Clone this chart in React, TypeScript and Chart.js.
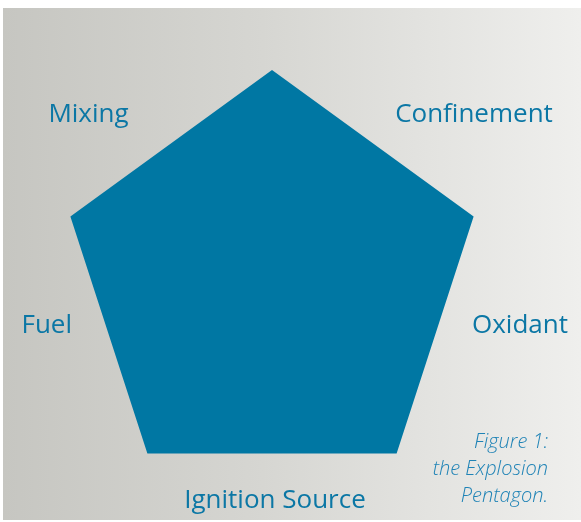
import React, { useEffect, useRef } from "react";
import { Chart, registerables } from "chart.js";

Chart.register(...registerables);

// Data
const factors = ["Confinement", "Oxidant", "Ignition Source", "Fuel", "Mixing"];
const strength = [1, 1, 1, 1, 1];
const captionLines = ["Figure 1:", "the Explosion", "Pentagon."];

// Styling / layout (not data)
const BLUE = "#0077a3";
const LABEL_COLOR = "#0b77a5";
const CAPTION_COLOR = "#1f83b6";
const LABEL_FONT = "500 26px 'Open Sans', 'DejaVu Sans', sans-serif";
const CAPTION_FONT = "italic 300 20px 'Open Sans', 'DejaVu Sans', sans-serif";
// offset of each factor label from the radar centre: [dx, baseline dy, align]
const LABEL_PLACEMENT: [number, number, CanvasTextAlign][] = [
  [202, -160, "center"],
  [200, 51, "left"],
  [3, 226, "center"],
  [-200, 51, "right"],
  [-183.5, -160, "center"],
];

const labelPlugin = {
  id: "pentagonLabels",
  afterDatasetsDraw(chart: any) {
    const scale = chart.scales.r;
    const ctx = chart.ctx as CanvasRenderingContext2D;
    const cx = scale.xCenter;
    const cy = scale.yCenter;
    ctx.save();
    ctx.fillStyle = LABEL_COLOR;
    ctx.font = LABEL_FONT;
    ctx.textBaseline = "alphabetic";
    factors.forEach((name, i) => {
      const [dx, dy, align] = LABEL_PLACEMENT[i];
      ctx.textAlign = align;
      ctx.fillText(name, cx + dx, cy + dy);
    });
    ctx.font = CAPTION_FONT;
    ctx.fillStyle = CAPTION_COLOR;
    ctx.textAlign = "right";
    captionLines.forEach((line, i) => {
      ctx.fillText(line, cx + 276, cy + 166 + i * 27);
    });
    ctx.restore();
  },
};

export default function App() {
  const ref = useRef<HTMLCanvasElement | null>(null);

  useEffect(() => {
    if (!ref.current) return;
    const chart = new Chart(ref.current, {
      type: "radar",
      data: {
        labels: factors,
        datasets: [
          {
            data: strength,
            backgroundColor: BLUE,
            borderWidth: 0,
            pointRadius: 0,
            fill: true,
          },
        ],
      },
      options: {
        animation: false,
        responsive: false,
        devicePixelRatio: 1,
        layout: { padding: { left: 57, top: 62, right: 97, bottom: 26 } },
        plugins: {
          legend: { display: false },
          tooltip: { enabled: false },
        },
        scales: {
          r: {
            min: 0,
            max: 1,
            grid: { display: false },
            angleLines: { display: false },
            ticks: { display: false },
            pointLabels: { display: false },
          },
        },
      },
      plugins: [labelPlugin],
    });
    return () => chart.destroy();
  }, []);

  return (
    <div
      style={{
        position: "fixed",
        left: 0,
        top: 0,
        width: 581,
        height: 522,
        background: "#ffffff",
      }}
    >
      <div
        style={{
          position: "absolute",
          left: 3,
          top: 8,
          width: 578,
          height: 512,
          background: "linear-gradient(to right, #c6c6c1 0%, #d6d6d2 45%, #efefed 100%)",
        }}
      >
        <canvas ref={ref} width={578} height={512} style={{ display: "block" }} />
      </div>
    </div>
  );
}
